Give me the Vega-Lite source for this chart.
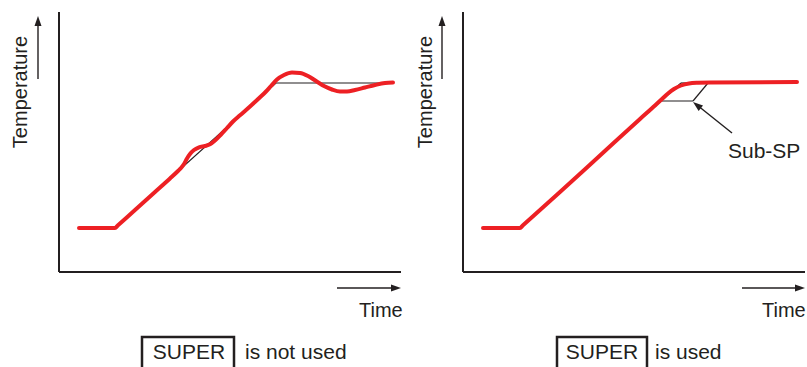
{
  "$schema": "https://vega.github.io/schema/vega-lite/v6.json",
  "width": 807,
  "height": 367,
  "autosize": {"type": "fit", "contains": "padding"},
  "padding": 0,
  "background": "white",
  "config": {"view": {"stroke": null}, "text": {"font": "Liberation Sans", "color": "#231f20"}},
  "datasets": {
    "axes": [
      {"panel": "not used", "x": 59, "y": 12, "x2": 59, "y2": 272},
      {"panel": "not used", "x": 59, "y": 272, "x2": 401, "y2": 272},
      {"panel": "used", "x": 463, "y": 12, "x2": 463, "y2": 272},
      {"panel": "used", "x": 463, "y": 272, "x2": 805, "y2": 272}
    ],
    "setpoint": [
      {"seg": "L ramp", "x": 115, "y": 228, "x2": 276, "y2": 83},
      {"seg": "L hold", "x": 276, "y": 83, "x2": 393, "y2": 83},
      {"seg": "R ramp", "x": 520, "y": 228, "x2": 681, "y2": 83},
      {"seg": "R hold", "x": 681, "y": 83, "x2": 708, "y2": 83},
      {"seg": "R sub-sp", "x": 660, "y": 101, "x2": 693, "y2": 101},
      {"seg": "R sub-sp rise", "x": 693, "y": 101, "x2": 708, "y2": 83}
    ],
    "shafts": [
      {"name": "L temp", "x": 38, "y": 79, "x2": 38, "y2": 22},
      {"name": "L time", "x": 337, "y": 288, "x2": 395, "y2": 288},
      {"name": "R temp", "x": 442, "y": 79, "x2": 442, "y2": 22},
      {"name": "R time", "x": 742, "y": 288, "x2": 799, "y2": 288},
      {"name": "Sub-SP", "x": 732, "y": 133, "x2": 697, "y2": 105}
    ],
    "headsUp": [{"name": "L temp", "x": 38, "y": 16}, {"name": "R temp", "x": 442, "y": 16}],
    "headsRight": [{"name": "L time", "x": 401, "y": 288}, {"name": "R time", "x": 805, "y": 288}],
    "headsDiag": [{"name": "Sub-SP", "x": 693, "y": 102}],
    "pv": [
      {"g": "not used", "x": 79, "y": 228}, {"g": "not used", "x": 115, "y": 228},
      {"g": "not used", "x": 118, "y": 225.3}, {"g": "not used", "x": 135, "y": 210},
      {"g": "not used", "x": 155, "y": 192}, {"g": "not used", "x": 170, "y": 178.5},
      {"g": "not used", "x": 178, "y": 171}, {"g": "not used", "x": 181, "y": 168},
      {"g": "not used", "x": 184, "y": 164}, {"g": "not used", "x": 187, "y": 158.5},
      {"g": "not used", "x": 190, "y": 154}, {"g": "not used", "x": 194, "y": 150},
      {"g": "not used", "x": 199, "y": 147.3}, {"g": "not used", "x": 205, "y": 146},
      {"g": "not used", "x": 210, "y": 144.3}, {"g": "not used", "x": 215, "y": 140.5},
      {"g": "not used", "x": 221, "y": 134.5}, {"g": "not used", "x": 227, "y": 128},
      {"g": "not used", "x": 233, "y": 121.5}, {"g": "not used", "x": 240, "y": 115.3},
      {"g": "not used", "x": 250, "y": 106.5}, {"g": "not used", "x": 260, "y": 97.3},
      {"g": "not used", "x": 266, "y": 91.5}, {"g": "not used", "x": 271, "y": 86},
      {"g": "not used", "x": 277, "y": 79.5}, {"g": "not used", "x": 284, "y": 75},
      {"g": "not used", "x": 292, "y": 72.5}, {"g": "not used", "x": 300, "y": 73},
      {"g": "not used", "x": 308, "y": 76}, {"g": "not used", "x": 316, "y": 81},
      {"g": "not used", "x": 324, "y": 86}, {"g": "not used", "x": 332, "y": 89.5},
      {"g": "not used", "x": 340, "y": 91.5}, {"g": "not used", "x": 347, "y": 91.5},
      {"g": "not used", "x": 355, "y": 90}, {"g": "not used", "x": 365, "y": 87.5},
      {"g": "not used", "x": 375, "y": 85}, {"g": "not used", "x": 385, "y": 83},
      {"g": "not used", "x": 393, "y": 82.5},
      {"g": "used", "x": 483, "y": 228}, {"g": "used", "x": 520, "y": 228},
      {"g": "used", "x": 523, "y": 225.3}, {"g": "used", "x": 560, "y": 192},
      {"g": "used", "x": 600, "y": 155.5}, {"g": "used", "x": 640, "y": 119},
      {"g": "used", "x": 655, "y": 105.5}, {"g": "used", "x": 662, "y": 99},
      {"g": "used", "x": 668, "y": 93.5}, {"g": "used", "x": 674, "y": 89},
      {"g": "used", "x": 681, "y": 85.5}, {"g": "used", "x": 689, "y": 83.5},
      {"g": "used", "x": 698, "y": 82.8}, {"g": "used", "x": 710, "y": 82.5},
      {"g": "used", "x": 797, "y": 82}
    ],
    "ylabels": [{"text": "Temperature", "x": 27, "y": 92}, {"text": "Temperature", "x": 432, "y": 92}],
    "xlabels": [{"text": "Time", "x": 359, "y": 317}, {"text": "Time", "x": 762, "y": 317}],
    "subsp": [{"text": "Sub-SP", "x": 728, "y": 158}],
    "boxes": [{"x": 142, "y": 337, "x2": 234, "y2": 372}, {"x": 557, "y": 337, "x2": 647, "y2": 372}],
    "boxtext": [{"text": "SUPER", "x": 189, "y": 359}, {"text": "SUPER", "x": 602, "y": 359}],
    "notes": [{"text": "is not used", "x": 245, "y": 359}, {"text": "is used", "x": 655, "y": 359}]
  },
  "encoding": {
    "x": {"field": "x", "type": "quantitative", "axis": null, "scale": {"domain": [0, 807], "nice": false, "zero": false}},
    "y": {"field": "y", "type": "quantitative", "axis": null, "scale": {"domain": [0, 367], "nice": false, "zero": false, "reverse": true}}
  },
  "layer": [
    {"data": {"name": "axes"}, "mark": {"type": "rule", "color": "#231f20", "strokeWidth": 2},
     "encoding": {"x2": {"field": "x2"}, "y2": {"field": "y2"}}},
    {"data": {"name": "setpoint"}, "mark": {"type": "rule", "color": "#231f20", "strokeWidth": 1.2},
     "encoding": {"x2": {"field": "x2"}, "y2": {"field": "y2"}}},
    {"data": {"name": "shafts"}, "mark": {"type": "rule", "color": "#231f20", "strokeWidth": 1.4},
     "encoding": {"x2": {"field": "x2"}, "y2": {"field": "y2"}}},
    {"data": {"name": "headsUp"}, "mark": {"type": "point", "shape": "M0,0L0.35,1L-0.35,1Z", "size": 400, "filled": true, "color": "#231f20", "opacity": 1, "angle": 0}},
    {"data": {"name": "headsRight"}, "mark": {"type": "point", "shape": "M0,0L0.35,1L-0.35,1Z", "size": 400, "filled": true, "color": "#231f20", "opacity": 1, "angle": 90}},
    {"data": {"name": "headsDiag"}, "mark": {"type": "point", "shape": "M0,0L0.35,1L-0.35,1Z", "size": 400, "filled": true, "color": "#231f20", "opacity": 1, "angle": 308.5}},
    {"data": {"name": "pv"}, "mark": {"type": "line", "color": "#ED2024", "strokeWidth": 4, "interpolate": "monotone", "strokeCap": "round", "strokeJoin": "round"},
     "encoding": {"detail": {"field": "g"}}},
    {"data": {"name": "boxes"}, "mark": {"type": "rect", "fill": null, "stroke": "#231f20", "strokeWidth": 2.5, "clip": true},
     "encoding": {"x2": {"field": "x2"}, "y2": {"field": "y2"}}},
    {"data": {"name": "ylabels"}, "mark": {"type": "text", "angle": 270, "align": "center", "baseline": "alphabetic", "fontSize": 20},
     "encoding": {"text": {"field": "text"}}},
    {"data": {"name": "xlabels"}, "mark": {"type": "text", "align": "left", "baseline": "alphabetic", "fontSize": 20},
     "encoding": {"text": {"field": "text"}}},
    {"data": {"name": "subsp"}, "mark": {"type": "text", "align": "left", "baseline": "alphabetic", "fontSize": 21},
     "encoding": {"text": {"field": "text"}}},
    {"data": {"name": "boxtext"}, "mark": {"type": "text", "align": "center", "baseline": "alphabetic", "fontSize": 21},
     "encoding": {"text": {"field": "text"}}},
    {"data": {"name": "notes"}, "mark": {"type": "text", "align": "left", "baseline": "alphabetic", "fontSize": 21},
     "encoding": {"text": {"field": "text"}}}
  ]
}
